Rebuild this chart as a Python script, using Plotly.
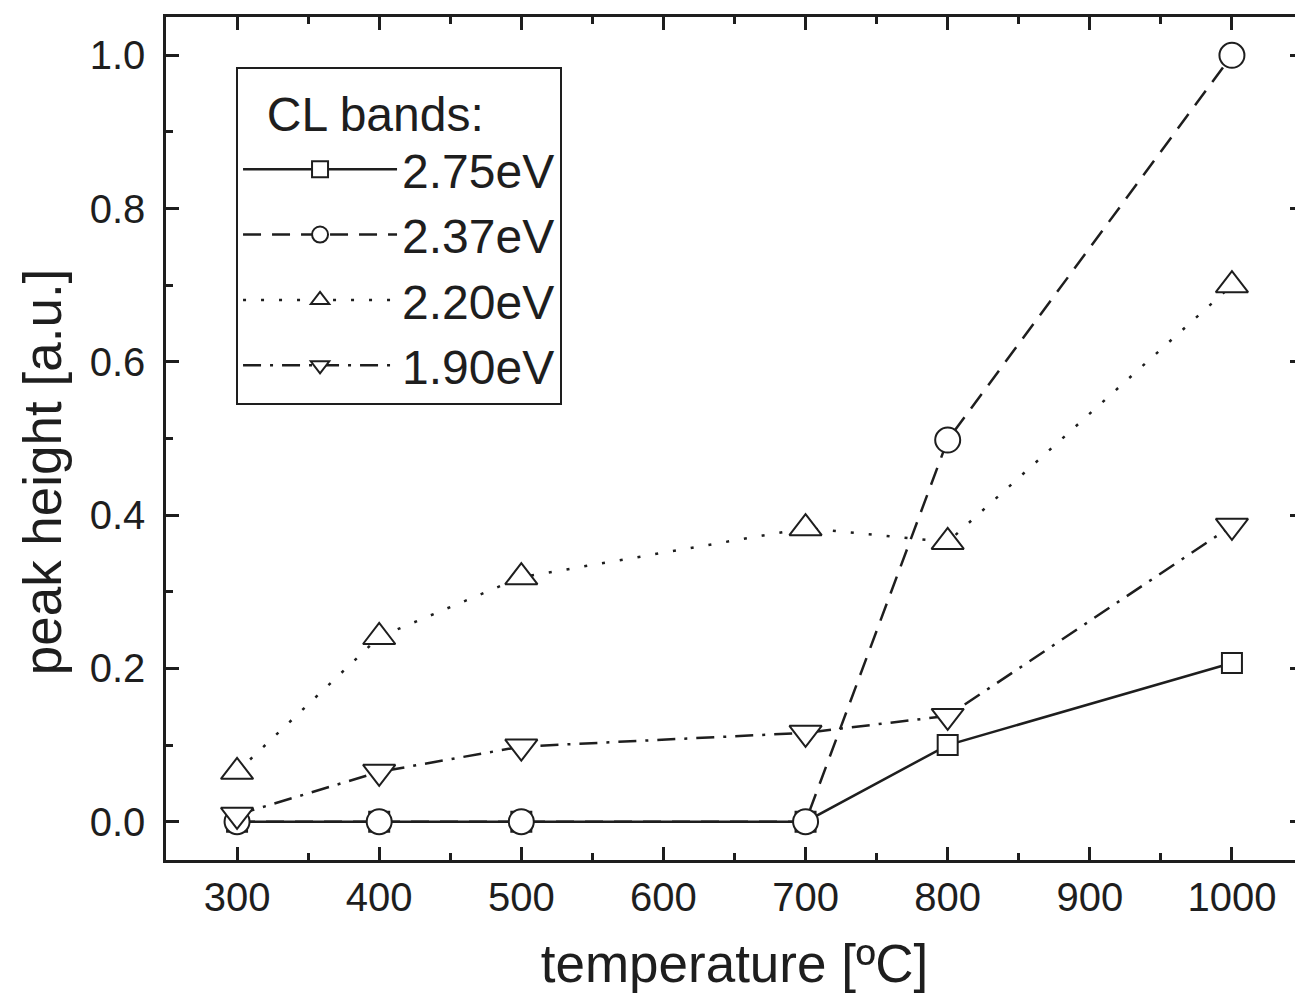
import plotly.graph_objects as go

temps = [300, 400, 500, 700, 800, 1000]
band_275 = [0.0, 0.0, 0.0, 0.0, 0.10, 0.207]
band_237 = [0.0, 0.0, 0.0, 0.0, 0.498, 1.0]
band_220 = [0.065, 0.241, 0.319, 0.383, 0.365, 0.700]
band_190 = [0.009, 0.065, 0.098, 0.116, 0.138, 0.386]

names = ["2.75eV", "2.37eV", "2.20eV", "1.90eV"]
series = [band_275, band_237, band_220, band_190]
symbols = ["square", "circle", "triangle-up", "triangle-down"]
sizes = [20, 25, 28, 28]
dashes = ["solid", "18px,11px", "3px,15px", "18px,9px,3px,9px"]

INK = "#1e1e1e"
fig = go.Figure()
for name, ys, sym, sz, dash in zip(names, series, symbols, sizes, dashes):
    fig.add_trace(go.Scatter(
        x=temps, y=ys, name=name, mode="lines+markers",
        line=dict(color=INK, width=2.5, dash=dash),
        marker=dict(symbol=sym, size=sz, color="white",
                    line=dict(color=INK, width=2)),
    ))

font = "Liberation Sans, Arial, sans-serif"
axis_common = dict(
    showline=True, linecolor=INK, linewidth=2.5, mirror="ticks",
    ticks="inside", ticklen=13, tickwidth=2.5, tickcolor=INK,
    showgrid=False, zeroline=False, automargin=False,
    tickfont=dict(family=font, size=40, color=INK),
)
# page body has an 8px default margin, so the figure is 8px smaller than the window
fig.update_layout(
    width=1295, height=999,
    margin=dict(l=158, r=0, t=9, b=147),
    paper_bgcolor="white", plot_bgcolor="white",
    font=dict(family=font, color=INK),
    xaxis=dict(range=[250, 1050], dtick=100, tick0=0,
               minor=dict(dtick=50, ticks="inside", ticklen=7, tickwidth=2.5, tickcolor=INK),
               title=dict(text="temperature [ºC]", font=dict(family=font, size=53, color=INK), standoff=28),
               **axis_common),
    yaxis=dict(range=[-0.05, 1.05], dtick=0.2, tick0=0, tickformat=".1f",
               ticklabelstandoff=10,
               minor=dict(dtick=0.1, ticks="inside", ticklen=7, tickwidth=2.5, tickcolor=INK),
               **axis_common),
    legend=dict(
        x=0.0616, y=0.9406, xanchor="left", yanchor="top",
        bordercolor=INK, borderwidth=2, bgcolor="white",
        font=dict(family=font, size=48, color=INK),
        title=dict(text="\u00a0\u00a0CL bands:", font=dict(family=font, size=48, color=INK)),
        itemwidth=154, tracegroupgap=0,
    ),
    annotations=[dict(
        text="peak height [a.u.]", textangle=-90,
        xref="paper", yref="paper", x=-0.109, y=0.46,
        xanchor="center", yanchor="middle", showarrow=False,
        font=dict(family=font, size=53, color=INK),
    )],
)
fig.write_html("out.html")
